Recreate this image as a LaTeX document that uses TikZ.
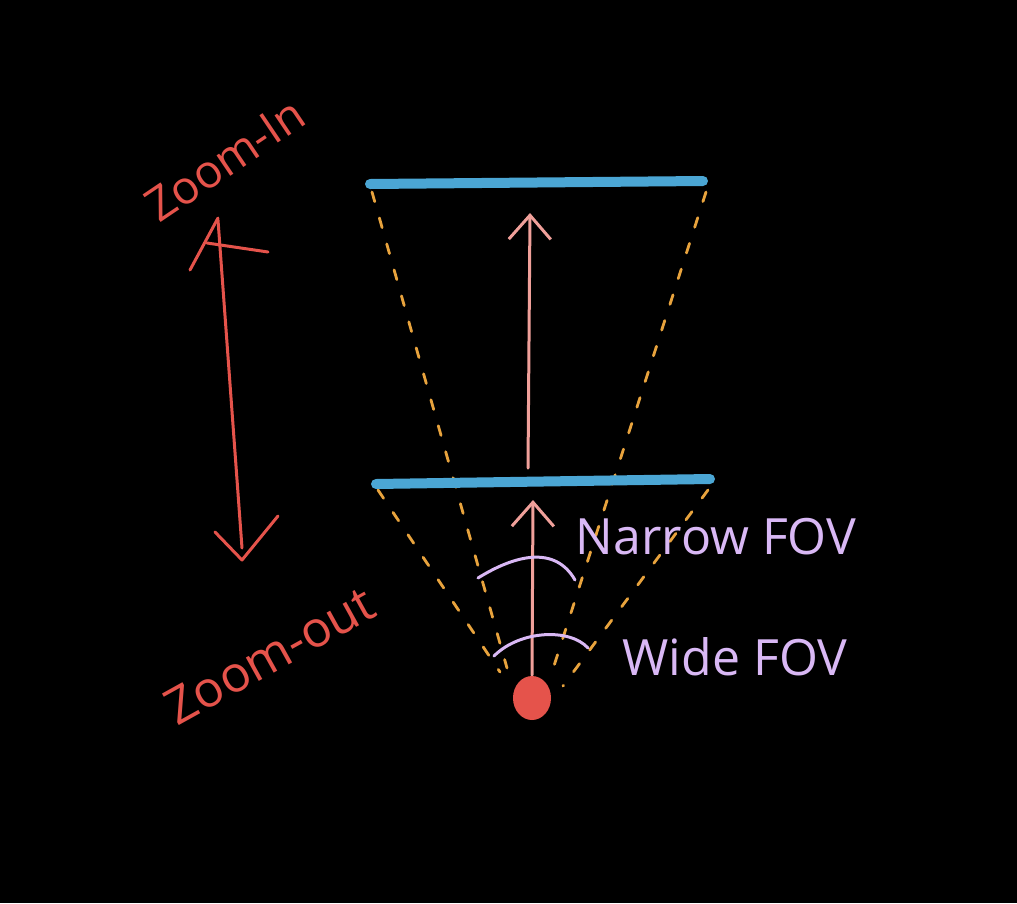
\documentclass[tikz,border=0pt]{standalone}
\usepackage{fontspec}
\setmainfont{Open Sans}
\usetikzlibrary{arrows.meta}
\definecolor{screenblue}{HTML}{4BA6D4}
\definecolor{rayorange}{HTML}{E8A33D}
\definecolor{axispink}{HTML}{F0A09A}
\definecolor{zoomred}{HTML}{E5534B}
\definecolor{fovpurple}{HTML}{D9B8F5}
\begin{document}
\begin{tikzpicture}[x=1pt,y=-1pt,line cap=round,line join=round,
  screen/.style={line width=10pt,color=screenblue},
  ray/.style={line width=2.8pt,color=rayorange,dash pattern=on 10pt off 17pt},
  axis/.style={line width=3pt,color=axispink,-{Straight Barb[length=24pt,width=42pt,line width=3pt]}},
  fov/.style={line width=3pt,color=fovpurple},
  zoom/.style={line width=3pt,color=zoomred},
  fovlabel/.style={text=fovpurple,inner sep=0pt,font=\fontsize{50}{56}\selectfont},
  zoomlabel/.style={text=zoomred,inner sep=0pt,font=\fontsize{46}{52}\selectfont}]
\fill[black] (0,0) rectangle (1017,903);
\useasboundingbox (0,0) rectangle (1017,903);
% screens
\coordinate (farL) at (370,184);
\coordinate (farR) at (703,181);
\coordinate (nearL) at (376,484);
\coordinate (nearR) at (710,479);
\coordinate (cam) at (532,698);
% rays
\coordinate (apexA) at (507,668);
\coordinate (apexB) at (552,672);
\coordinate (apexC) at (500,672);
\coordinate (apexD) at (563,686);
\draw[ray] (372,192) -- (apexA);
\draw[ray] (706,192) -- (apexB);
\draw[ray] (378,490) -- (apexC);
\draw[ray] (708,490) -- (apexD);
\draw[screen] (farL) -- (farR);
\draw[screen] (nearL) -- (nearR);
% camera and view axis
\draw[axis] (528,468) -- (530,213);
\draw[axis] (532,675) -- (533,500);
\fill[zoomred] (cam) ellipse [x radius=19pt,y radius=22pt];
% field of view arcs
\draw[fov] (478,578) .. controls (515,555) and (555,545) .. (575,580);
\draw[fov] (494,656) .. controls (520,630) and (570,628) .. (588,648);
\node[fovlabel] (narrow) at (716,537) {Narrow FOV};
\node[fovlabel] (wide) at (735,657) {Wide FOV};
% zoom arrow
\draw[zoom] (218,220) -- (242,548);
\draw[zoom] (218,218) -- (190,270);
\draw[zoom] (207,243) -- (268,252);
\draw[zoom] (215,532) -- (242,560) -- (278,516);
\node[zoomlabel,rotate=34] (zin) at (225,160) {Zoom-In};
\node[zoomlabel,rotate=29,font=\fontsize{50}{56}\selectfont] (zout) at (270,655) {Zoom-out};
\end{tikzpicture}
\end{document}
